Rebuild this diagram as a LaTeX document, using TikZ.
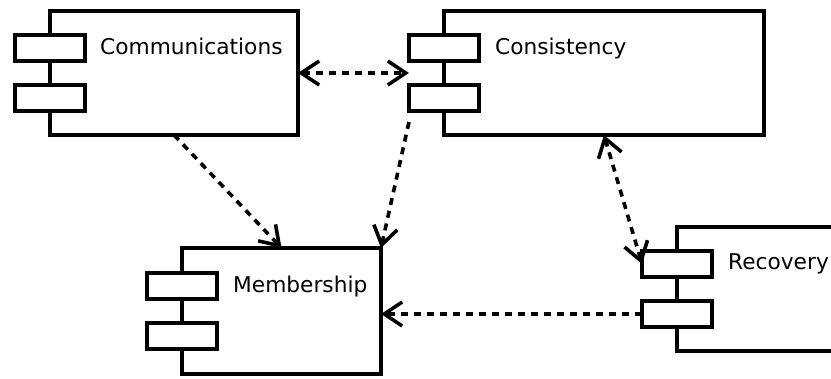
\documentclass[tikz,border=0pt]{standalone}
\usepackage{fontspec}
\setmainfont{DejaVu Sans}
\usetikzlibrary{
	arrows.meta,
	calc,
	positioning
}

\begin{document}
\begin{tikzpicture}[x = 1pt, y = -1pt,
	comp/.style = {draw, line width = 3.6pt, fill = white, inner sep = 0pt, outer sep = 0pt},
	port/.style = {draw, line width = 3.6pt, fill = white, minimum width = 70pt, minimum height = 26pt, inner sep = 0pt, outer sep = 0pt},
	cname/.style = {anchor = base west, inner sep = 0pt, font = \fontsize{21.7pt}{26pt}\selectfont},
	dep/.style = {line width = 3.6pt, dash pattern = on 7pt off 6pt},
	>={Straight Barb[length = 18pt, width = 24pt]}]

	\clip (0,0) rectangle (831,379);

	\node[comp, minimum width = 248pt, minimum height = 124pt] (comm) at (174,73) {};
	\node[comp, minimum width = 320pt, minimum height = 124pt] (cons) at (604,73) {};
	\node[comp, minimum width = 199pt, minimum height = 126pt] (memb) at (281.5,311) {};
	\node[comp, minimum width = 250pt, minimum height = 124pt] (recov) at (802,289) {};

	\node[port] (comm-p1) at ($(comm.west)+(0,-25)$) {};
	\node[port] (comm-p2) at ($(comm.west)+(0,25)$) {};
	\node[port] (cons-p1) at ($(cons.west)+(0,-25)$) {};
	\node[port] (cons-p2) at ($(cons.west)+(0,25)$) {};
	\node[port] (memb-p1) at ($(memb.west)+(0,-25)$) {};
	\node[port] (memb-p2) at ($(memb.west)+(0,25)$) {};
	\node[port] (recov-p1) at ($(recov.west)+(0,-25)$) {};
	\node[port] (recov-p2) at ($(recov.west)+(0,25)$) {};

	\node[cname] (comm-l) at ($(comm.north west)+(50,44)$) {Communications};
	\node[cname] (cons-l) at ($(cons.north west)+(51,44)$) {Consistency};
	\node[cname] (memb-l) at ($(memb.north west)+(51,45)$) {Membership};
	\node[cname] (recov-l) at ($(recov.north west)+(51,43)$) {Recovery};

	\coordinate (cons-a) at ($(cons-p2.south west)+(0,11)$);

	\draw[dep, <->] (comm.east) -- (comm.east -| cons-p1.west);
	\draw[dep, ->] (comm.south) -- (memb.north);
	\draw[dep, ->] (cons-a) -- (memb.north east);
	\draw[dep, <->] (cons.south) -- (recov-p1.west);
	\draw[dep, ->] (recov-p2.west) -- (recov-p2.west -| memb.east);

\end{tikzpicture}
\end{document}
